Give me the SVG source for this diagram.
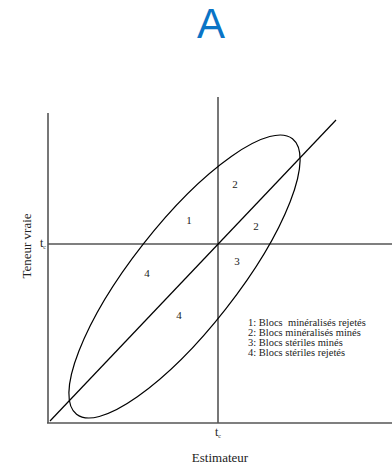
<svg xmlns="http://www.w3.org/2000/svg" width="392" height="465" viewBox="0 0 392 465">
<style>
.ax{stroke:#555;stroke-width:1.6;fill:none}
.cv{stroke:#000;stroke-width:1.2;fill:none}
.t{font-family:"Liberation Serif",serif;fill:#222}
.n{font-size:11px;text-anchor:middle}
.lg{font-size:10.5px}
</style>
<rect width="392" height="465" fill="#fff"/>
<text x="211" y="38" font-family="Liberation Sans, Arial, sans-serif" font-size="42" fill="#0a74c6" text-anchor="middle">A</text>
<g id="connectors">
<line class="ax" x1="48" y1="113" x2="48" y2="423"/>
<line class="ax" x1="47" y1="423" x2="392" y2="423"/>
<line class="ax" x1="218" y1="97" x2="218" y2="423"/>
<line class="ax" x1="48" y1="244" x2="392" y2="244"/>
<line class="cv" x1="50" y1="421" x2="336" y2="120"/>
<ellipse class="cv" cx="184.5" cy="276.5" rx="175" ry="52.5" transform="rotate(-51.9 184.5 276.5)"/>
</g>
<g id="regions">
<text class="t n" x="189" y="224">1</text>
<text class="t n" x="235" y="188">2</text>
<text class="t n" x="256" y="230">2</text>
<text class="t n" x="237" y="265">3</text>
<text class="t n" x="147" y="277">4</text>
<text class="t n" x="179" y="319">4</text>
</g>
<g id="axis-labels">
<text class="t" font-size="13" transform="translate(31 246) rotate(-90)" text-anchor="middle">Teneur vraie</text>
<text class="t" font-size="12" x="40" y="247">t<tspan font-size="6" dy="2">c</tspan></text>
<text class="t" font-size="12" x="215" y="436">t<tspan font-size="6" dy="2">c</tspan></text>
<text class="t" font-size="13" x="220" y="462" text-anchor="middle">Estimateur</text>
</g>
<g id="legend" class="t lg">
<text x="248" y="326" xml:space="preserve">1: Blocs  minéralisés rejetés</text>
<text x="248" y="336">2: Blocs minéralisés minés</text>
<text x="248" y="346">3: Blocs stériles minés</text>
<text x="248" y="356">4: Blocs stériles rejetés</text>
</g>
</svg>
